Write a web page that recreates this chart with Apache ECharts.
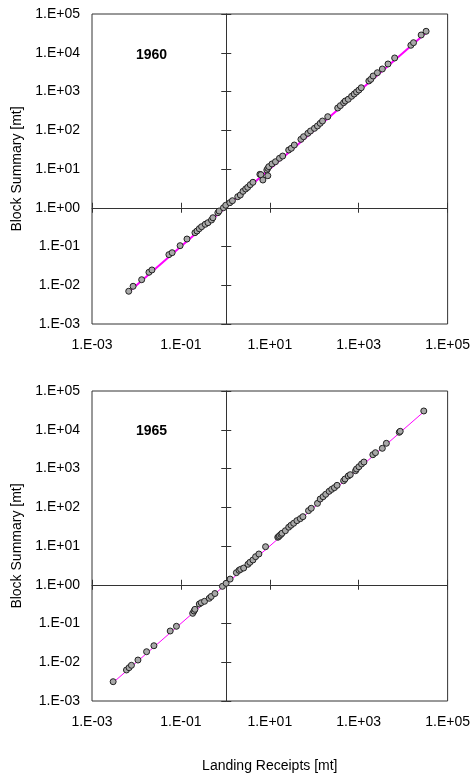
<!DOCTYPE html>
<html>
<head>
<meta charset="utf-8">
<script src="https://cdn.jsdelivr.net/npm/echarts@6/dist/echarts.min.js"></script>
<style>
  html, body { margin: 0; padding: 0; background: #fff; }
  #chart { width: 473px; height: 776px; }
</style>
</head>
<body>
<div id="chart"></div>
<script>
  // Landing receipts (x) vs block summary (y), mt
  const landing1960 = [0.0067, 0.0084, 0.0131, 0.0191, 0.0223, 0.0537, 0.0635, 0.0959, 0.137, 0.207,
    0.230, 0.259, 0.292, 0.352, 0.406, 0.488, 0.525, 0.678, 0.724, 0.906, 1.02, 1.26, 1.44, 1.90, 2.17,
    2.49, 2.86, 3.18, 3.63, 4.17, 5.98, 6.31, 6.98, 8.57, 9.02, 9.02, 9.51, 11.2, 13.4, 16.5, 19.5, 26.6,
    30.5, 35.6, 50.1, 57.5, 71.8, 82.4, 101, 118, 136, 153, 201, 337, 386, 457, 499, 582, 692, 792, 893,
    1010, 1140, 1690, 1870, 2110, 2630, 3400, 4560, 6440, 14900, 17100, 25400, 32800];
  const block1960 = [0.0070, 0.0094, 0.0139, 0.0216, 0.0248, 0.0617, 0.0692, 0.105, 0.156, 0.227,
    0.251, 0.288, 0.324, 0.374, 0.411, 0.483, 0.553, 0.745, 0.824, 1.00, 1.16, 1.35, 1.52, 1.93, 2.13,
    2.65, 3.05, 3.37, 3.94, 4.54, 7.29, 7.13, 5.20, 9.42, 10.4, 6.71, 11.5, 13.5, 15.4, 18.9, 21.6, 30.9,
    34.2, 41.6, 58.3, 68.2, 83.4, 95.7, 112, 129, 151, 173, 224, 375, 431, 514, 569, 630, 752, 861, 971,
    1090, 1250, 1870, 2060, 2510, 3050, 3810, 5130, 7330, 15600, 18200, 28700, 35800];

  const landing1965 = [0.00299, 0.00596, 0.00682, 0.00771, 0.0108, 0.0169, 0.0247, 0.0574, 0.0793, 0.184,
    0.197, 0.207, 0.259, 0.287, 0.340, 0.434, 0.481, 0.582, 0.859, 1.04, 1.28, 1.77, 2.03, 2.21, 2.58,
    3.22, 3.57, 4.17, 4.79, 5.68, 8.02, 15.1, 15.8, 16.5, 17.8, 18.8, 22.4, 26.6, 29.9, 34.4, 40.7, 48.5,
    55.5, 74.3, 85.5, 118, 136, 158, 181, 216, 247, 284, 326, 457, 492, 582, 646, 849, 893, 1010, 1160,
    1310, 2080, 2380, 3400, 4190, 8170, 8590, 29100];
  const block1965 = [0.00315, 0.00631, 0.00724, 0.00834, 0.0114, 0.0187, 0.0267, 0.0640, 0.0847, 0.183,
    0.210, 0.232, 0.318, 0.344, 0.374, 0.447, 0.498, 0.594, 0.910, 1.09, 1.40, 2.05, 2.36, 2.50, 2.70,
    3.37, 3.79, 4.36, 5.30, 6.22, 9.59, 16.8, 17.4, 18.5, 19.9, 21.3, 24.8, 30.5, 34.3, 38.6, 45.1, 50.8,
    57.1, 81.7, 94.0, 126, 163, 187, 216, 258, 290, 320, 368, 484, 536, 640, 692, 877, 971, 1110, 1310,
    1470, 2270, 2560, 3320, 4470, 8590, 9120, 30500];

  // 1:1 line ends
  const oneToOne1960 = [0.0067, 32800];
  const oneToOne1965 = [0.00299, 29100];

  const years = ['1960', '1965'];
  // decades from 1e-3 to 1e5
  const decadeLabels = ['1.E-03', '1.E-02', '1.E-01', '1.E+00', '1.E+01', '1.E+02', '1.E+03', '1.E+04', '1.E+05'];

  const FONT = '"Liberation Sans", Arial, sans-serif';
  const AXIS = '#333';
  // axis runs in decades above 1e-3, so 1.E-03 sits at 0 and 1.E+00 at 3
  const dec = v => Math.log10(v) + 3;
  const lbl = v => decadeLabels[Math.round(v)] || '';

  const GRID_W = 358, GRID_H = 310;
  const grids = [
    { left: 92, top: 14, width: GRID_W, height: GRID_H, show: true, borderColor: AXIS, borderWidth: 1, backgroundColor: 'transparent' },
    { left: 92, top: 391, width: GRID_W, height: GRID_H, show: true, borderColor: AXIS, borderWidth: 1, backgroundColor: 'transparent' }
  ];
  // the crossing axes sit at 1 (3 decades in), measured from the top / left edge
  const xCrossOffset = -(GRID_H * 5 / 8);
  const yCrossOffset = -(GRID_W * 3 / 8);

  const labelStyle = { color: '#000', fontSize: 14, fontFamily: FONT };
  const xAxes = [], yAxes = [];
  grids.forEach((g, i) => {
    const base = { gridIndex: i, type: 'value', min: 0, max: 8, splitLine: { show: false } };
    xAxes.push(
      Object.assign({}, base, {
        interval: 2, position: 'bottom',
        axisLine: { show: false, onZero: false }, axisTick: { show: false },
        axisLabel: Object.assign({ margin: 14, formatter: lbl, showMinLabel: true, showMaxLabel: true }, labelStyle),
        name: i === 1 ? 'Landing Receipts [mt]' : '', nameLocation: 'middle', nameGap: 58,
        nameTextStyle: labelStyle
      }),
      Object.assign({}, base, {
        interval: 2, position: 'top', offset: xCrossOffset,
        axisLine: { show: true, onZero: false, lineStyle: { color: AXIS, width: 1 } },
        axisTick: { show: true, length: 5, lineStyle: { color: AXIS } },
        axisLabel: { show: false }
      }),
      Object.assign({}, base, {
        interval: 2, position: 'top', offset: xCrossOffset,
        axisLine: { show: false, onZero: false },
        axisTick: { show: true, inside: true, length: 5, lineStyle: { color: AXIS } },
        axisLabel: { show: false }
      })
    );
    yAxes.push(
      Object.assign({}, base, {
        interval: 1, position: 'left',
        axisLine: { show: false, onZero: false }, axisTick: { show: false },
        axisLabel: Object.assign({ margin: 12, formatter: lbl, showMinLabel: true, showMaxLabel: true }, labelStyle),
        name: 'Block Summary [mt]', nameLocation: 'middle', nameGap: 62,
        nameTextStyle: labelStyle
      }),
      Object.assign({}, base, {
        interval: 1, position: 'left', offset: yCrossOffset,
        axisLine: { show: true, onZero: false, lineStyle: { color: AXIS, width: 1 } },
        axisTick: { show: true, length: 5, lineStyle: { color: AXIS } },
        axisLabel: { show: false }
      }),
      Object.assign({}, base, {
        interval: 1, position: 'left', offset: yCrossOffset,
        axisLine: { show: false, onZero: false },
        axisTick: { show: true, inside: true, length: 5, lineStyle: { color: AXIS } },
        axisLabel: { show: false }
      })
    );
  });

  const panels = [
    { xs: landing1960, ys: block1960, fit: oneToOne1960, lineWidth: 2 },
    { xs: landing1965, ys: block1965, fit: oneToOne1965, lineWidth: 1 }
  ];
  const series = [];
  panels.forEach((p, i) => {
    series.push({
      type: 'line', xAxisIndex: i * 3, yAxisIndex: i * 3,
      data: p.fit.map(v => [dec(v), dec(v)]),
      symbol: 'none', silent: true, z: 1,
      lineStyle: { color: '#ff00ff', width: p.lineWidth }
    });
    series.push({
      type: 'scatter', xAxisIndex: i * 3, yAxisIndex: i * 3,
      data: p.xs.map((x, k) => [dec(x), dec(p.ys[k])]),
      symbol: 'circle', symbolSize: 6, z: 2,
      itemStyle: { color: '#a8a8a8', borderColor: '#222', borderWidth: 1, opacity: 1 }
    });
  });

  const chart = echarts.init(document.getElementById('chart'), null, { renderer: 'canvas' });
  chart.setOption({
    animation: false,
    backgroundColor: '#fff',
    title: years.map((y, i) => ({
      text: y, left: 136, top: i === 0 ? 48 : 424, padding: 0,
      textStyle: { color: '#000', fontSize: 14, fontWeight: 'bold', fontFamily: FONT }
    })),
    grid: grids,
    xAxis: xAxes,
    yAxis: yAxes,
    series: series
  });
</script>
</body>
</html>
